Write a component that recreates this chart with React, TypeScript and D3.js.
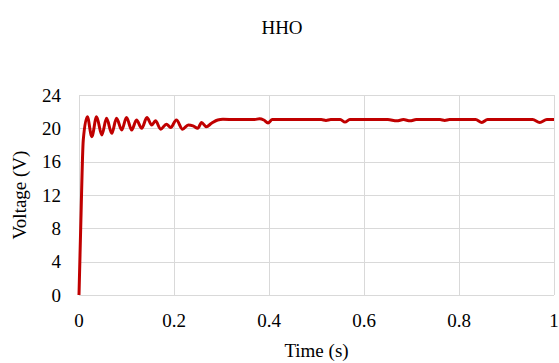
import { useEffect, useRef } from 'react'
import * as d3 from 'd3'

// HHO output voltage
const timeS = [
  0, 0.004, 0.009, 0.0175, 0.027, 0.037, 0.048, 0.058, 0.069, 0.079, 0.09, 0.1,
  0.111, 0.121, 0.132, 0.143, 0.153, 0.161, 0.172, 0.184, 0.193, 0.205, 0.218,
  0.23, 0.24, 0.25, 0.258, 0.268, 0.279, 0.292, 0.303, 0.33, 0.37, 0.38, 0.389,
  0.398, 0.407, 0.45, 0.51, 0.52, 0.53, 0.55, 0.56, 0.57, 0.65, 0.669, 0.683,
  0.697, 0.71, 0.76, 0.77, 0.78, 0.835, 0.848, 0.86, 0.955, 0.97, 0.985, 1,
]
const voltageV = [
  0, 9, 18.6, 21.4, 19.0, 21.4, 19.2, 21.2, 19.4, 21.2, 19.8, 21.3,
  19.8, 21.0, 20.0, 21.3, 20.4, 20.9, 19.9, 20.5, 20.1, 21.0, 19.9,
  20.4, 20.3, 20.0, 20.7, 20.2, 20.6, 21.0, 21.08, 21.05, 21.05, 21.15, 21.0,
  20.65, 21.05, 21.05, 21.05, 20.95, 21.05, 21.05, 20.75, 21.05, 21.05, 20.9, 21.05,
  20.9, 21.05, 21.05, 20.95, 21.05, 21.05, 20.7, 21.05, 21.05, 20.7, 21.05, 21.05,
]

const xTicks = [0, 0.2, 0.4, 0.6, 0.8, 1]
const yTicks = [0, 4, 8, 12, 16, 20, 24]

export default function App() {
  const svgRef = useRef<SVGSVGElement>(null)

  useEffect(() => {
    if (!svgRef.current) return
    const svg = d3.select(svgRef.current)
    svg.selectAll('*').remove()

    const width = 559
    const height = 363
    const margin = { top: 95, right: 5, bottom: 68, left: 79 }
    const innerWidth = width - margin.left - margin.right
    const innerHeight = height - margin.top - margin.bottom
    const font = '"Liberation Serif", "Times New Roman", serif'
    const grid = '#d9d9d9'

    svg.attr('width', width).attr('height', height)

    const x = d3.scaleLinear().domain([0, 1]).range([0, innerWidth])
    const y = d3.scaleLinear().domain([0, 24]).range([innerHeight, 0])

    const g = svg.append('g').attr('transform', `translate(${margin.left},${margin.top})`)

    // gridlines
    g.append('g')
      .selectAll('line')
      .data(yTicks)
      .join('line')
      .attr('x1', 0)
      .attr('x2', innerWidth)
      .attr('y1', d => Math.round(y(d)) + 0.5)
      .attr('y2', d => Math.round(y(d)) + 0.5)
      .attr('stroke', grid)
      .attr('stroke-width', 1)

    g.append('g')
      .selectAll('line')
      .data(xTicks)
      .join('line')
      .attr('x1', d => Math.round(x(d)) + 0.5)
      .attr('x2', d => Math.round(x(d)) + 0.5)
      .attr('y1', 0)
      .attr('y2', innerHeight)
      .attr('stroke', grid)
      .attr('stroke-width', 1)

    // tick labels
    g.append('g')
      .selectAll('text')
      .data(yTicks)
      .join('text')
      .attr('x', -18)
      .attr('y', d => y(d))
      .attr('dy', '0.35em')
      .attr('text-anchor', 'end')
      .style('font-family', font)
      .style('font-size', '19px')
      .text(d => String(d))

    g.append('g')
      .selectAll('text')
      .data(xTicks)
      .join('text')
      .attr('x', d => x(d))
      .attr('y', innerHeight + 32)
      .attr('text-anchor', 'middle')
      .style('font-family', font)
      .style('font-size', '19px')
      .text(d => String(d))

    // the series
    const points = timeS.map((t, i) => [t, voltageV[i]] as [number, number])
    const line = d3.line<[number, number]>()
      .x(d => x(d[0]))
      .y(d => y(d[1]))
      .curve(d3.curveMonotoneX)

    g.append('path')
      .datum(points)
      .attr('d', line)
      .attr('fill', 'none')
      .attr('stroke', '#c00000')
      .attr('stroke-width', 3)
      .attr('stroke-linejoin', 'round')

    // titles
    svg.append('text')
      .attr('x', 282)
      .attr('y', 34)
      .attr('text-anchor', 'middle')
      .style('font-family', font)
      .style('font-size', '19px')
      .text('HHO')

    svg.append('text')
      .attr('x', margin.left + innerWidth / 2)
      .attr('y', 357)
      .attr('text-anchor', 'middle')
      .style('font-family', font)
      .style('font-size', '19px')
      .text('Time (s)')

    svg.append('text')
      .attr('transform', `translate(26,${margin.top + innerHeight / 2}) rotate(-90)`)
      .attr('text-anchor', 'middle')
      .style('font-family', font)
      .style('font-size', '19px')
      .text('Voltage (V)')
  }, [])

  return (
    <svg
      ref={svgRef}
      style={{ position: 'absolute', left: 0, top: 0, display: 'block', background: '#fff' }}
    />
  )
}
